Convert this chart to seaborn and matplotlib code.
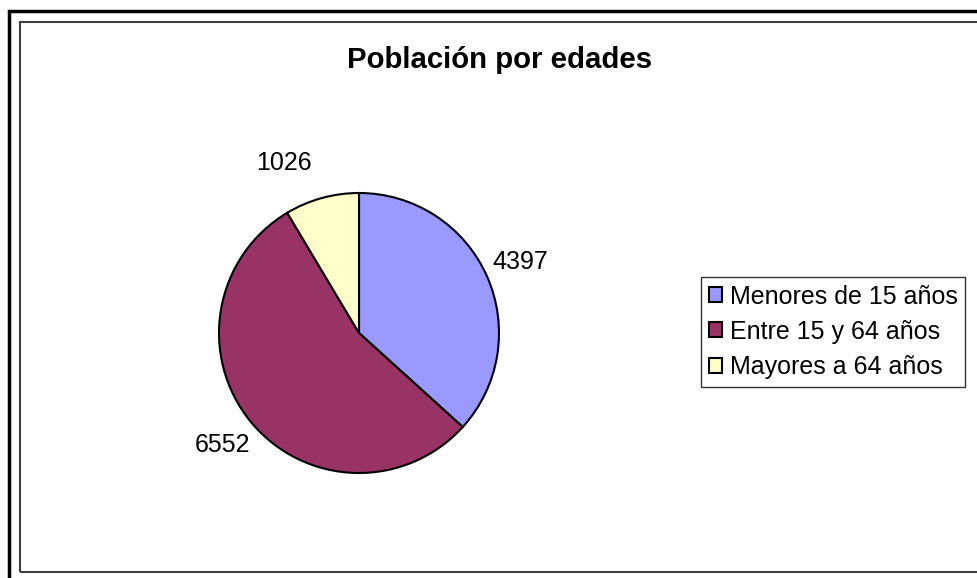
import matplotlib
matplotlib.use("Agg")
import matplotlib.pyplot as plt
from matplotlib.patches import Rectangle
import seaborn as sns

# data
categorias = ["Menores de 15 años", "Entre 15 y 64 años", "Mayores a 64 años"]
poblacion = [4397, 6552, 1026]
etiquetas = [str(v) for v in poblacion]
titulo = "Población por edades"

sns.set_theme(style="white")
plt.rcParams['font.family'] = ['Liberation Sans', 'DejaVu Sans']
plt.rcParams['text.color'] = 'black'

colores = sns.color_palette(["#9999FF", "#993366", "#FFFFCC"])

W, H = 977, 578
fig = plt.figure(figsize=(W / 100, H / 100), dpi=100)

# chart frames (outer + inner)
fig.patches.append(Rectangle((9 / W, -0.1), 1.2, 1 - 11 / H + 0.1, transform=fig.transFigure,
                             fill=False, edgecolor="black", linewidth=2.5, clip_on=False))
fig.patches.append(Rectangle((20 / W, 1 - 572 / H), 1.0, (572 - 22) / H, transform=fig.transFigure,
                             fill=False, edgecolor="#404040", linewidth=1.5, clip_on=False))

# pie area: center (359, 333), radius 140 px
ax = fig.add_axes([(359 - 140) / W, (H - 473) / H, 280 / W, 280 / H])
wedges, textos = ax.pie(poblacion, labels=etiquetas, colors=colores, startangle=90,
                        counterclock=False, labeldistance=1.26,
                        wedgeprops=dict(edgecolor="black", linewidth=1.5),
                        textprops=dict(fontsize=18, color="black"))
for t in textos:
    t.set_ha("center")
    t.set_va("center")
# the small slice label sits a bit more to the left in the original
textos[2].set_ha("right")
ax.set_aspect("equal")
ax.set_xlim(-1, 1)
ax.set_ylim(-1, 1)
ax.axis("off")

fig.text(500 / W, 1 - 68 / H, titulo, ha="center", va="baseline",
         fontsize=21.2, fontweight="bold", color="black")

leg = fig.legend(wedges, categorias, loc="upper left", bbox_to_anchor=(701 / W, 1 - 277 / H),
                 frameon=True, fancybox=False, edgecolor="black", fontsize=18,
                 handlelength=0.55, handleheight=0.55, handletextpad=0.3,
                 borderpad=0.3, labelspacing=0.45, borderaxespad=0)
leg.get_frame().set_linewidth(1.0)

fig.savefig("out.png", dpi=100, facecolor="white")
